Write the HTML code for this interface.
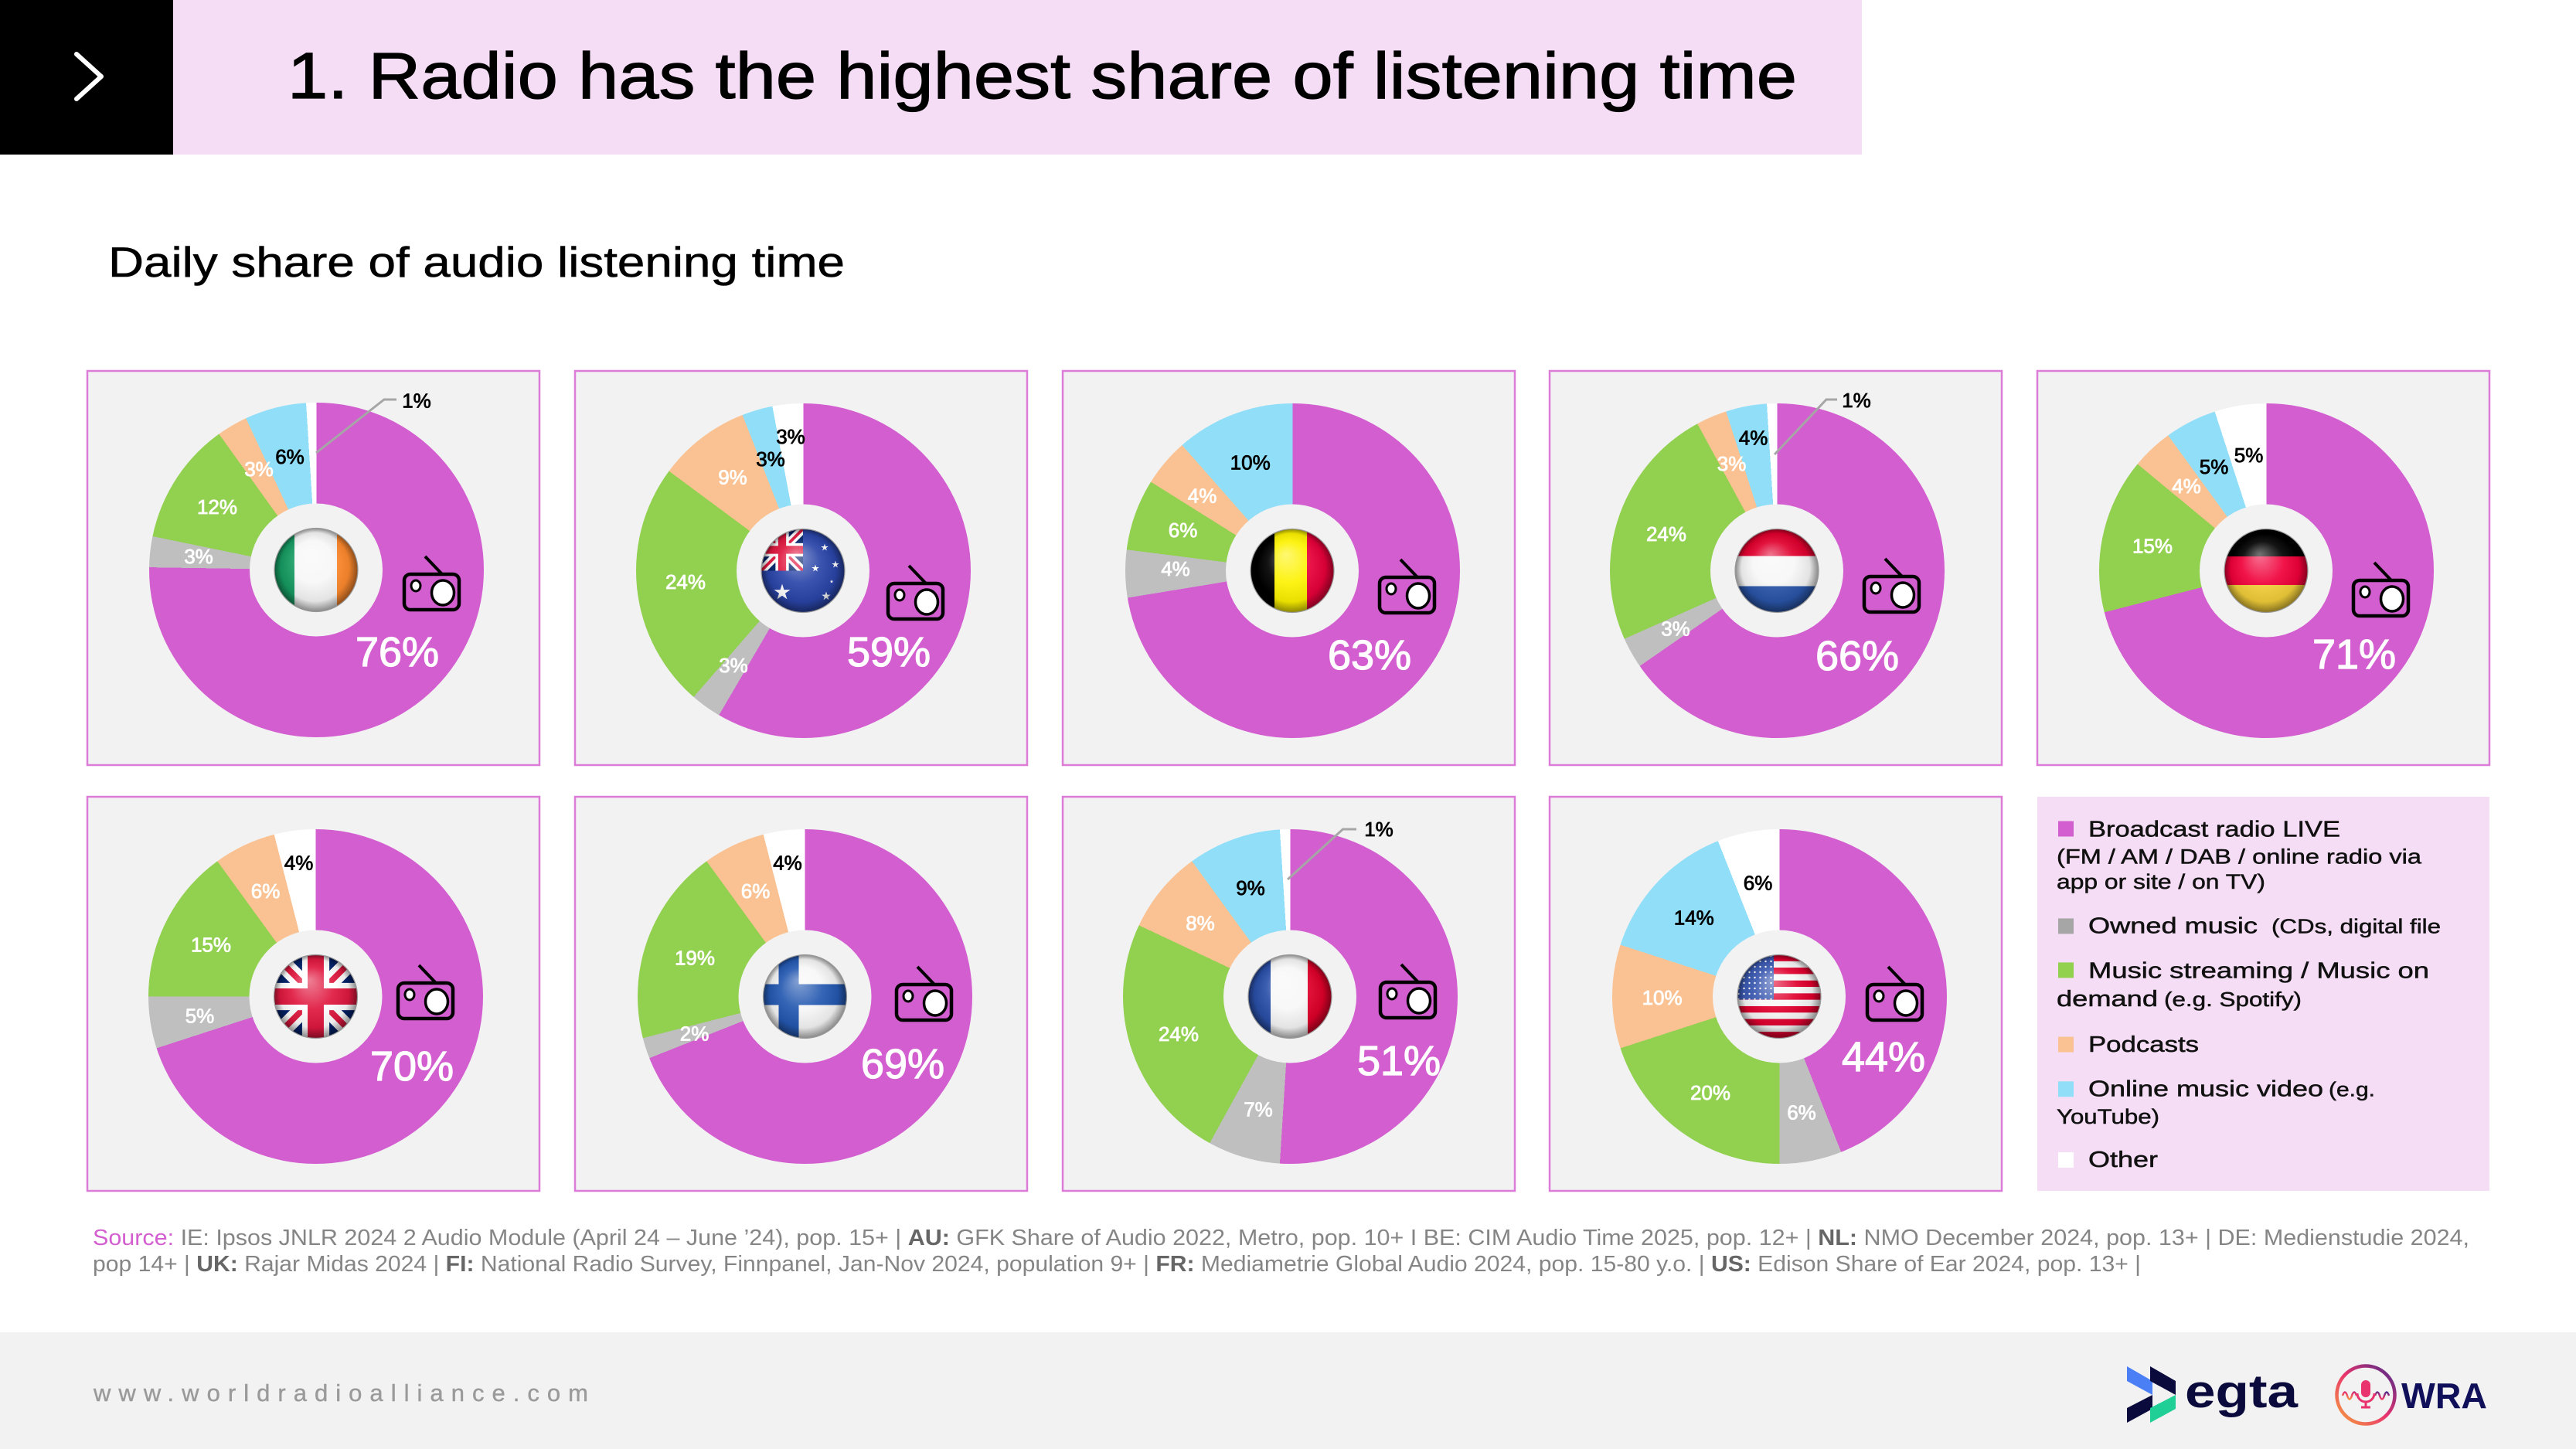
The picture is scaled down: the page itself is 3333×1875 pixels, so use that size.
<!DOCTYPE html>
<html>
<head>
<meta charset="utf-8">
<style>
html,body{margin:0;padding:0;background:#fff;}
#page{position:relative;width:3333px;height:1875px;overflow:hidden;background:#fff;font-family:"Liberation Sans",Arial,sans-serif;}
svg{position:absolute;left:0;top:0;}
.d{position:absolute;width:433px;height:433px;border-radius:50%;}
.w{fill:#fff;stroke:#fff;stroke-width:0.8;}
.b{fill:#000;stroke:#000;stroke-width:0.8;}
</style>
</head>
<body>
<div id="page">
<svg width="3333" height="1875" style="z-index:0">
  <rect x="0" y="0" width="224" height="200" fill="#000"/>
  <rect x="224" y="0" width="2185" height="200" fill="#f5def5"/>
  <g fill="#f2f2f2" stroke="#dc7cd8" stroke-width="2.5">
    <rect x="113" y="480" width="585" height="510"/>
    <rect x="744" y="480" width="585" height="510"/>
    <rect x="1375" y="480" width="585" height="510"/>
    <rect x="2005" y="480" width="585" height="510"/>
    <rect x="2636" y="480" width="585" height="510"/>
    <rect x="113" y="1031" width="585" height="510"/>
    <rect x="744" y="1031" width="585" height="510"/>
    <rect x="1375" y="1031" width="585" height="510"/>
    <rect x="2005" y="1031" width="585" height="510"/>
  </g>
  <rect x="2636" y="1031" width="585" height="510" fill="#f5def5"/>
  <rect x="0" y="1724" width="3333" height="151" fill="#f2f2f2"/>
</svg>

<!-- donuts -->
<div class="d" style="left:192.5px;top:521px;background:conic-gradient(#d35ecf 0 75.25%,#bfbfbf 0 78.22%,#92d050 0 90.10%,#fac292 0 93.07%,#91def8 0 99.01%,#ffffff 0 100%);"></div>
<div class="d" style="left:822.5px;top:522px;background:conic-gradient(#d35ecf 0 58.42%,#bfbfbf 0 61.39%,#92d050 0 85.15%,#fac292 0 94.06%,#91def8 0 97.03%,#ffffff 0 100%);"></div>
<div class="d" style="left:1455.5px;top:522px;background:conic-gradient(#d35ecf 0 72.41%,#bfbfbf 0 77.01%,#92d050 0 83.91%,#fac292 0 88.51%,#91def8 0 100%);"></div>
<div class="d" style="left:2082.5px;top:522px;background:conic-gradient(#d35ecf 0 65.35%,#bfbfbf 0 68.32%,#92d050 0 92.08%,#fac292 0 95.05%,#91def8 0 99.01%,#ffffff 0 100%);"></div>
<div class="d" style="left:2715.5px;top:522px;background:conic-gradient(#d35ecf 0 71%,#92d050 0 86%,#fac292 0 90%,#91def8 0 95%,#ffffff 0 100%);"></div>
<div class="d" style="left:192px;top:1073px;background:conic-gradient(#d35ecf 0 70%,#bfbfbf 0 75%,#92d050 0 90%,#fac292 0 96%,#ffffff 0 100%);"></div>
<div class="d" style="left:825px;top:1073px;background:conic-gradient(#d35ecf 0 69%,#bfbfbf 0 71%,#92d050 0 90%,#fac292 0 96%,#ffffff 0 100%);"></div>
<div class="d" style="left:1452.5px;top:1073px;background:conic-gradient(#d35ecf 0 51%,#bfbfbf 0 58%,#92d050 0 82%,#fac292 0 90%,#91def8 0 99%,#ffffff 0 100%);"></div>
<div class="d" style="left:2085.5px;top:1073px;background:conic-gradient(#d35ecf 0 44%,#bfbfbf 0 50%,#92d050 0 70%,#fac292 0 80%,#91def8 0 94%,#ffffff 0 100%);"></div>

<svg width="3333" height="1875" style="z-index:2" font-family="Liberation Sans, Arial, sans-serif">
  <defs>
    <clipPath id="fc"><circle r="54"/></clipPath>
    <clipPath id="ujc"><rect x="-50" y="-50" width="100" height="100"/></clipPath>
    <radialGradient id="gl" cx="0.5" cy="0.5" r="0.5" fx="0.42" fy="0.3">
      <stop offset="0" stop-color="#fff" stop-opacity="0.45"/>
      <stop offset="0.5" stop-color="#fff" stop-opacity="0.08"/>
      <stop offset="0.82" stop-color="#000" stop-opacity="0.08"/>
      <stop offset="1" stop-color="#000" stop-opacity="0.45"/>
    </radialGradient>
    <linearGradient id="wg" x1="0" y1="1" x2="1" y2="0">
      <stop offset="0" stop-color="#f7a23b"/>
      <stop offset="0.5" stop-color="#e8336e"/>
      <stop offset="1" stop-color="#4b2a8a"/>
    </linearGradient>
    <pattern id="st" width="7" height="7" patternUnits="userSpaceOnUse"><circle cx="3.5" cy="3.5" r="1.2" fill="#fff"/></pattern>
    <polygon id="star" points="0,-1 0.2245,-0.309 0.951,-0.309 0.363,0.118 0.588,0.809 0,0.382 -0.588,0.809 -0.363,0.118 -0.951,-0.309 -0.2245,-0.309" fill="#fff"/>
    <g id="uj">
      <g clip-path="url(#ujc)">
        <rect x="-50" y="-50" width="100" height="100" fill="#012169"/>
        <path d="M-50,-50 L50,50 M50,-50 L-50,50" stroke="#fff" stroke-width="20"/>
        <path d="M-50,-50 L50,50 M50,-50 L-50,50" stroke="#e0183f" stroke-width="7"/>
        <path d="M0,-50 V50 M-50,0 H50" stroke="#fff" stroke-width="32"/>
        <path d="M0,-50 V50 M-50,0 H50" stroke="#e0183f" stroke-width="19"/>
      </g>
    </g>
    <g id="radio">
      <rect x="0" y="0" width="71" height="46" rx="8" fill="none" stroke="#000" stroke-width="4.5"/>
      <line x1="27" y1="-23" x2="49" y2="0" stroke="#000" stroke-width="4"/>
      <ellipse cx="15" cy="15" rx="6" ry="7" fill="#fff" stroke="#000" stroke-width="3"/>
      <ellipse cx="50" cy="24" rx="14.5" ry="16" fill="#fff" stroke="#000" stroke-width="3.5"/>
    </g>
  </defs>

  <!-- header -->
  <polyline points="99,70 131,99 99,128" fill="none" stroke="#fff" stroke-width="6" stroke-linejoin="round" stroke-linecap="round"/>
  <text x="372" y="127" font-size="84" fill="#000" stroke="#000" stroke-width="1.2" textLength="1953" lengthAdjust="spacingAndGlyphs">1. Radio has the highest share of listening time</text>
  <text x="140" y="358" font-size="55" fill="#000" stroke="#000" stroke-width="0.6" textLength="953" lengthAdjust="spacingAndGlyphs">Daily share of audio listening time</text>

  <!-- IE -->
  <g transform="translate(409,737.5)">
    <circle r="86" fill="#f2f2f2"/>
    <g clip-path="url(#fc)">
      <rect x="-54" y="-54" width="26" height="108" fill="#169b62"/>
      <rect x="-28" y="-54" width="55" height="108" fill="#f7f7f7"/>
      <rect x="27" y="-54" width="27" height="108" fill="#ff8a2e"/>
      <circle r="54" fill="url(#gl)"/>
    </g>
    <circle r="54" fill="none" stroke="#999" stroke-width="1.2"/>
  </g>
  <!-- AU -->
  <g transform="translate(1039,738.5)">
    <circle r="86" fill="#f2f2f2"/>
    <g clip-path="url(#fc)">
      <rect x="-54" y="-54" width="108" height="108" fill="#2a45a8"/>
      <use href="#uj" transform="translate(-27,-27) scale(0.54)"/>
      <use href="#star" transform="translate(-27,28) scale(11)"/>
      <use href="#star" transform="translate(28,-30) scale(5)"/>
      <use href="#star" transform="translate(16,-3) scale(5)"/>
      <use href="#star" transform="translate(42,-8) scale(5)"/>
      <use href="#star" transform="translate(30,33) scale(6)"/>
      <use href="#star" transform="translate(37,14) scale(2.5)"/>
      <circle r="54" fill="url(#gl)"/>
    </g>
    <circle r="54" fill="none" stroke="#999" stroke-width="1.2"/>
  </g>
  <!-- BE -->
  <g transform="translate(1672,738.5)">
    <circle r="86" fill="#f2f2f2"/>
    <g clip-path="url(#fc)">
      <rect x="-54" y="-54" width="31" height="108" fill="#000"/>
      <rect x="-23" y="-54" width="42" height="108" fill="#fdf200"/>
      <rect x="19" y="-54" width="35" height="108" fill="#e8003a"/>
      <circle r="54" fill="url(#gl)"/>
    </g>
    <circle r="54" fill="none" stroke="#999" stroke-width="1.2"/>
  </g>
  <!-- NL -->
  <g transform="translate(2299,738.5)">
    <circle r="86" fill="#f2f2f2"/>
    <g clip-path="url(#fc)">
      <rect x="-54" y="-54" width="108" height="35" fill="#e0002e"/>
      <rect x="-54" y="-19" width="108" height="39" fill="#f7f7f7"/>
      <rect x="-54" y="20" width="108" height="34" fill="#2a55a8"/>
      <circle r="54" fill="url(#gl)"/>
    </g>
    <circle r="54" fill="none" stroke="#999" stroke-width="1.2"/>
  </g>
  <!-- DE -->
  <g transform="translate(2932,738.5)">
    <circle r="86" fill="#f2f2f2"/>
    <g clip-path="url(#fc)">
      <rect x="-54" y="-54" width="108" height="36" fill="#000"/>
      <rect x="-54" y="-18.5" width="108" height="37" fill="#f0003a"/>
      <rect x="-54" y="18.5" width="108" height="36" fill="#f3cf3a"/>
      <circle r="54" fill="url(#gl)"/>
    </g>
    <circle r="54" fill="none" stroke="#999" stroke-width="1.2"/>
  </g>
  <!-- UK -->
  <g transform="translate(408.5,1289.5)">
    <circle r="86" fill="#f2f2f2"/>
    <g clip-path="url(#fc)">
      <use href="#uj" transform="scale(1.1)"/>
      <circle r="54" fill="url(#gl)"/>
    </g>
    <circle r="54" fill="none" stroke="#999" stroke-width="1.2"/>
  </g>
  <!-- FI -->
  <g transform="translate(1041.5,1289.5)">
    <circle r="86" fill="#f2f2f2"/>
    <g clip-path="url(#fc)">
      <rect x="-54" y="-54" width="108" height="108" fill="#f7f7f7"/>
      <rect x="-34" y="-54" width="26" height="108" fill="#2458b0"/>
      <rect x="-54" y="-16" width="108" height="27" fill="#2458b0"/>
      <circle r="54" fill="url(#gl)"/>
    </g>
    <circle r="54" fill="none" stroke="#999" stroke-width="1.2"/>
  </g>
  <!-- FR -->
  <g transform="translate(1669,1289.5)">
    <circle r="86" fill="#f2f2f2"/>
    <g clip-path="url(#fc)">
      <rect x="-54" y="-54" width="29" height="108" fill="#2a4fa8"/>
      <rect x="-25" y="-54" width="48" height="108" fill="#f7f7f7"/>
      <rect x="23" y="-54" width="31" height="108" fill="#e0002a"/>
      <circle r="54" fill="url(#gl)"/>
    </g>
    <circle r="54" fill="none" stroke="#999" stroke-width="1.2"/>
  </g>
  <!-- US -->
  <g transform="translate(2302,1289.5)">
    <circle r="86" fill="#f2f2f2"/>
    <g clip-path="url(#fc)">
      <rect x="-54" y="-54" width="108" height="108" fill="#f7f7f7"/>
      <g fill="#e0002e">
        <rect x="-54" y="-54" width="108" height="8.31"/>
        <rect x="-54" y="-37.38" width="108" height="8.31"/>
        <rect x="-54" y="-20.77" width="108" height="8.31"/>
        <rect x="-54" y="-4.15" width="108" height="8.31"/>
        <rect x="-54" y="12.46" width="108" height="8.31"/>
        <rect x="-54" y="29.08" width="108" height="8.31"/>
        <rect x="-54" y="45.69" width="108" height="8.31"/>
      </g>
      <rect x="-54" y="-54" width="47" height="58" fill="#3a58b0"/>
      <rect x="-54" y="-54" width="47" height="58" fill="url(#st)"/>
      <circle r="54" fill="url(#gl)"/>
    </g>
    <circle r="54" fill="none" stroke="#999" stroke-width="1.2"/>
  </g>

  <!-- radios -->
  <use href="#radio" x="523" y="743"/>
  <use href="#radio" x="1149" y="755"/>
  <use href="#radio" x="1785" y="747"/>
  <use href="#radio" x="2412" y="746"/>
  <use href="#radio" x="3045" y="751"/>
  <use href="#radio" x="515" y="1272"/>
  <use href="#radio" x="1160" y="1274"/>
  <use href="#radio" x="1786" y="1271"/>
  <use href="#radio" x="2416" y="1274"/>

  <!-- leader lines -->
  <g fill="none" stroke="#a6a6a6" stroke-width="3">
    <polyline points="409,586 497,517 513,517"/>
    <polyline points="2296,588 2363,517 2377,517"/>
    <polyline points="1666,1138 1737.5,1073 1755,1073"/>
  </g>

  <!-- small labels -->
  <g font-size="26" text-anchor="middle">
    <!-- IE -->
    <text x="539" y="527.5" class="b">1%</text>
    <text x="375" y="600" class="b">6%</text>
    <text x="335" y="616" class="w">3%</text>
    <text x="281" y="665" class="w">12%</text>
    <text x="257" y="729" class="w">3%</text>
    <!-- AU -->
    <text x="1023" y="574" class="b">3%</text>
    <text x="997" y="603" class="b">3%</text>
    <text x="948" y="626.7" class="w">9%</text>
    <text x="887" y="762" class="w">24%</text>
    <text x="949" y="870" class="w">3%</text>
    <!-- BE -->
    <text x="1617.7" y="607.7" class="b">10%</text>
    <text x="1555.6" y="650.7" class="w">4%</text>
    <text x="1530.6" y="695" class="w">6%</text>
    <text x="1521" y="745" class="w">4%</text>
    <!-- NL -->
    <text x="2402" y="527" class="b">1%</text>
    <text x="2268.6" y="575.7" class="b">4%</text>
    <text x="2240.6" y="609" class="w">3%</text>
    <text x="2156" y="700" class="w">24%</text>
    <text x="2168" y="822.7" class="w">3%</text>
    <!-- DE -->
    <text x="2909.6" y="598" class="b">5%</text>
    <text x="2864.6" y="613" class="b">5%</text>
    <text x="2829" y="638" class="w">4%</text>
    <text x="2785" y="715.7" class="w">15%</text>
    <!-- UK -->
    <text x="386.6" y="1125.7" class="b">4%</text>
    <text x="343.6" y="1162" class="w">6%</text>
    <text x="273" y="1231.3" class="w">15%</text>
    <text x="258.5" y="1323.7" class="w">5%</text>
    <!-- FI -->
    <text x="1019" y="1125.7" class="b">4%</text>
    <text x="977.6" y="1162" class="w">6%</text>
    <text x="899" y="1248.7" class="w">19%</text>
    <text x="898.6" y="1346.3" class="w">2%</text>
    <!-- FR -->
    <text x="1784" y="1082" class="b">1%</text>
    <text x="1618" y="1158" class="b">9%</text>
    <text x="1553" y="1203.7" class="w">8%</text>
    <text x="1525" y="1347" class="w">24%</text>
    <text x="1628" y="1444.7" class="w">7%</text>
    <!-- US -->
    <text x="2274.6" y="1151.3" class="b">6%</text>
    <text x="2191.8" y="1196.3" class="b">14%</text>
    <text x="2150.6" y="1300" class="w">10%</text>
    <text x="2213" y="1423" class="w">20%</text>
    <text x="2331" y="1448.7" class="w">6%</text>
  </g>

  <!-- big labels -->
  <g font-size="54" text-anchor="middle" fill="#fff" stroke="#fff" stroke-width="1.2">
    <text x="514" y="862">76%</text>
    <text x="1150" y="862">59%</text>
    <text x="1772" y="866">63%</text>
    <text x="2403" y="867">66%</text>
    <text x="3046" y="865">71%</text>
    <text x="533" y="1398">70%</text>
    <text x="1168" y="1395">69%</text>
    <text x="1810" y="1391">51%</text>
    <text x="2437" y="1386">44%</text>
  </g>

  <!-- legend -->
  <rect x="2663" y="1062.5" width="20" height="20" fill="#d35ecf"/>
  <rect x="2663" y="1188.4" width="20" height="20" fill="#a6a6a6"/>
  <rect x="2663" y="1245.4" width="20" height="20" fill="#92d050"/>
  <rect x="2663" y="1341.6" width="20" height="20" fill="#fac292"/>
  <rect x="2663" y="1399.3" width="20" height="20" fill="#91def8"/>
  <rect x="2663" y="1491" width="20" height="20" fill="#ffffff"/>
  <g fill="#111" stroke="#111" stroke-width="0.5">
    <text x="2702" y="1082.4" font-size="29" textLength="326" lengthAdjust="spacingAndGlyphs">Broadcast radio LIVE</text>
    <text x="2661" y="1117.4" font-size="27" textLength="472" lengthAdjust="spacingAndGlyphs">(FM / AM / DAB / online radio via</text>
    <text x="2661" y="1150" font-size="27" textLength="270" lengthAdjust="spacingAndGlyphs">app or site / on TV)</text>
    <text x="2702" y="1207.6" font-size="29" textLength="219" lengthAdjust="spacingAndGlyphs">Owned music</text>
    <text x="2939" y="1207.6" font-size="26" textLength="219" lengthAdjust="spacingAndGlyphs">(CDs, digital file</text>
    <text x="2702" y="1265.3" font-size="29" textLength="441" lengthAdjust="spacingAndGlyphs">Music streaming / Music on</text>
    <text x="2661" y="1302" font-size="29" textLength="131" lengthAdjust="spacingAndGlyphs">demand</text>
    <text x="2800" y="1302" font-size="26" textLength="178" lengthAdjust="spacingAndGlyphs">(e.g. Spotify)</text>
    <text x="2702" y="1360.8" font-size="29" textLength="143" lengthAdjust="spacingAndGlyphs">Podcasts</text>
    <text x="2702" y="1418.5" font-size="29" textLength="304" lengthAdjust="spacingAndGlyphs">Online music video</text>
    <text x="3013" y="1418.5" font-size="26" textLength="60" lengthAdjust="spacingAndGlyphs">(e.g.</text>
    <text x="2661" y="1454" font-size="27" textLength="133" lengthAdjust="spacingAndGlyphs">YouTube)</text>
    <text x="2702" y="1510" font-size="29" textLength="90" lengthAdjust="spacingAndGlyphs">Other</text>
  </g>

  <!-- source -->
  <text x="120" y="1611" font-size="29" fill="#858585" textLength="3075" lengthAdjust="spacingAndGlyphs"><tspan fill="#d35ecf">Source:</tspan> IE: Ipsos JNLR 2024 2 Audio Module (April 24 – June ’24), pop. 15+ | <tspan font-weight="bold" fill="#666">AU:</tspan> GFK Share of Audio 2022, Metro, pop. 10+ I BE: CIM Audio Time 2025, pop. 12+ | <tspan font-weight="bold" fill="#666">NL:</tspan> NMO December 2024, pop. 13+ | DE: Medienstudie 2024,</text>
  <text x="120" y="1645" font-size="29" fill="#858585" textLength="2650" lengthAdjust="spacingAndGlyphs">pop 14+ | <tspan font-weight="bold" fill="#666">UK:</tspan> Rajar Midas 2024 | <tspan font-weight="bold" fill="#666">FI:</tspan> National Radio Survey, Finnpanel, Jan-Nov 2024, population 9+ | <tspan font-weight="bold" fill="#666">FR:</tspan> Mediametrie Global Audio 2024, pop. 15-80 y.o. | <tspan font-weight="bold" fill="#666">US:</tspan> Edison Share of Ear 2024, pop. 13+ |</text>

  <!-- footer -->
  <text x="121" y="1813" font-size="31" fill="#9a9a9a" stroke="#9a9a9a" stroke-width="0.4" textLength="640" lengthAdjust="spacing">www.worldradioalliance.com</text>

  <!-- egta logo -->
  <polygon points="2752,1768 2785,1787 2785,1805 2752,1787" fill="#4a7ff5"/>
  <polygon points="2752,1822 2785,1805 2785,1823 2752,1841" fill="#0a0a3c"/>
  <polygon points="2782,1768 2815,1787 2815,1805 2782,1787" fill="#0a0a3c"/>
  <polygon points="2782,1822 2815,1805 2815,1823 2782,1841" fill="#1fcf95"/>
  <text x="2827" y="1821" font-size="60" font-weight="bold" fill="#0a0a3c" textLength="146" lengthAdjust="spacingAndGlyphs">egta</text>

  <!-- WRA logo -->
  <circle cx="3061" cy="1805" r="37.5" fill="none" stroke="url(#wg)" stroke-width="4.5"/>
  <path d="M3031,1806 q3,-9 6,0 t6,0 t6,0 M3073,1806 q3,-9 6,0 t6,0 t6,0" fill="none" stroke="url(#wg)" stroke-width="2.5"/>
  <rect x="3055" y="1786" width="12" height="22" rx="6" fill="#e8336e"/>
  <path d="M3050,1803 a11,11 0 0 0 22,0" fill="none" stroke="#e8336e" stroke-width="3"/>
  <line x1="3061" y1="1814" x2="3061" y2="1821" stroke="#e8336e" stroke-width="3"/>
  <line x1="3055" y1="1821" x2="3067" y2="1821" stroke="#e8336e" stroke-width="3"/>
  <text x="3107" y="1822" font-size="46" font-weight="bold" fill="#10105a" textLength="111" lengthAdjust="spacingAndGlyphs">WRA</text>
</svg>
</div>
</body>
</html>
